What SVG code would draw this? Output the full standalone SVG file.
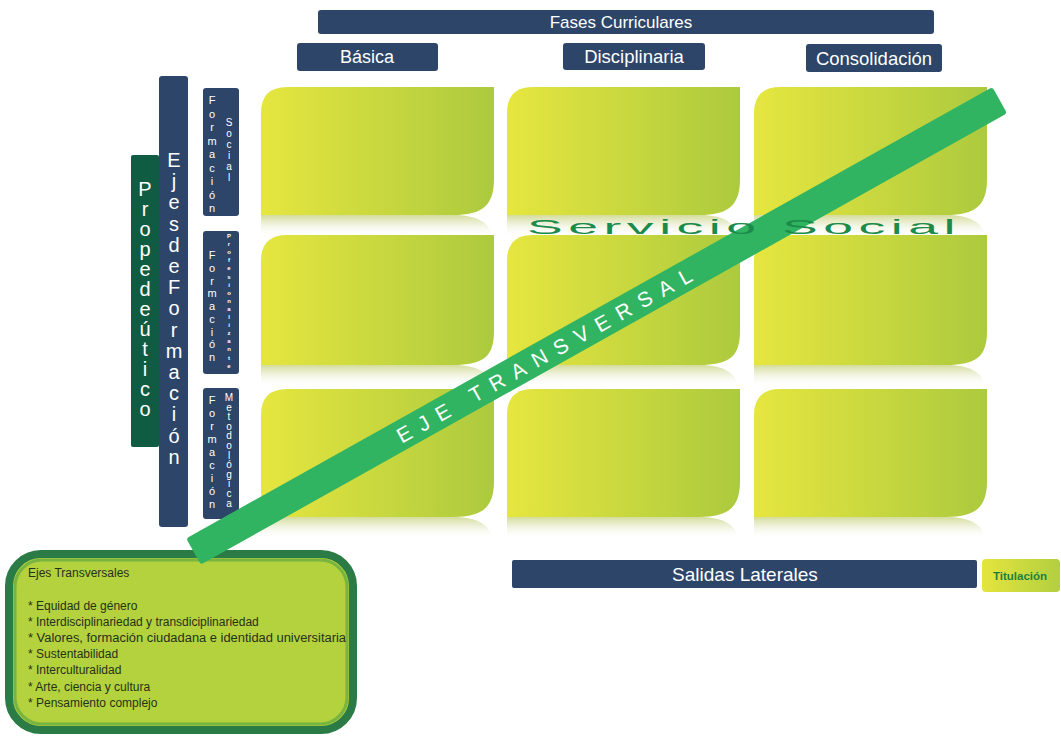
<svg xmlns="http://www.w3.org/2000/svg" width="1061" height="737" viewBox="0 0 1061 737">
<defs>
<linearGradient id="gTile" x1="0" y1="0" x2="1" y2="0">
<stop offset="0" stop-color="#e6e63f"/>
<stop offset="1" stop-color="#acca3e"/>
</linearGradient>
<linearGradient id="gRefl" x1="0" y1="0" x2="0" y2="1">
<stop offset="0" stop-color="#cfd98f" stop-opacity="0.9"/>
<stop offset="0.5" stop-color="#eef1da" stop-opacity="0.7"/>
<stop offset="1" stop-color="#ffffff" stop-opacity="0"/>
</linearGradient>
<linearGradient id="gTit" x1="0" y1="0" x2="1" y2="0">
<stop offset="0" stop-color="#e4e53d"/>
<stop offset="1" stop-color="#b3cf41"/>
</linearGradient>
<style>
.navy{fill:#2c4568}
.hdr{font-family:"Liberation Sans",Arial,sans-serif;fill:#ffffff;text-anchor:middle}
.vt{font-family:"Liberation Sans",Arial,sans-serif;fill:#ffffff;text-anchor:middle}
.tile{fill:url(#gTile)}
.refl{fill:url(#gRefl)}
.item{font-family:"Liberation Sans",Arial,sans-serif;font-size:12px;fill:#26301a}
</style>
<path id="tileA" d="M0,26 Q0,0 26,0 H233 V92 C233,118 222,128 192,128 H0 Z"/>
<path id="tileB" d="M0,26 Q0,0 26,0 H233 V96 C233,122 222,130 192,130 H0 Z"/>
<path id="reflA" d="M0,0 H192 C214,0 228,6 232,22 H0 Z"/>
</defs>
<rect width="1061" height="737" fill="#ffffff"/>

<g id="fases-curriculares"><rect x="318" y="10" width="616" height="24" rx="3" class="navy"/><text x="621" y="28" class="hdr" font-size="17">Fases Curriculares</text></g>
<g id="basica"><rect x="297" y="43" width="141" height="28" rx="3" class="navy"/><text x="367" y="63" class="hdr" font-size="18">Básica</text></g>
<g id="disciplinaria"><rect x="563" y="43" width="142" height="27" rx="3" class="navy"/><text x="634" y="63" class="hdr" font-size="18.5">Disciplinaria</text></g>
<g id="consolidacion"><rect x="806" y="44" width="136" height="28" rx="3" class="navy"/><text x="874" y="65" class="hdr" font-size="18.5">Consolidación</text></g>

<g id="tiles">
<g id="tile-r1c1"><use href="#tileA" x="261" y="87" class="tile"/><use href="#reflA" x="261" y="215" class="refl"/></g>
<g id="tile-r1c2"><use href="#tileA" x="507" y="87" class="tile"/><use href="#reflA" x="507" y="215" class="refl"/></g>
<g id="tile-r1c3"><use href="#tileA" x="754" y="87" class="tile"/><use href="#reflA" x="754" y="215" class="refl"/></g>
<g id="tile-r2c1"><use href="#tileB" x="261" y="235" class="tile"/><use href="#reflA" x="261" y="365" class="refl"/></g>
<g id="tile-r2c2"><use href="#tileB" x="507" y="235" class="tile"/><use href="#reflA" x="507" y="365" class="refl"/></g>
<g id="tile-r2c3"><use href="#tileB" x="754" y="235" class="tile"/><use href="#reflA" x="754" y="365" class="refl"/></g>
<g id="tile-r3c1"><use href="#tileA" x="261" y="389" class="tile"/><use href="#reflA" x="261" y="517" class="refl"/></g>
<g id="tile-r3c2"><use href="#tileA" x="507" y="389" class="tile"/><use href="#reflA" x="507" y="517" class="refl"/></g>
<g id="tile-r3c3"><use href="#tileA" x="754" y="389" class="tile"/><use href="#reflA" x="754" y="517" class="refl"/></g>
</g>

<g id="propedeutico"><rect x="131" y="155" width="28" height="292" rx="2" fill="#0f5c42"/>
<text class="vt" font-size="20"><tspan x="145" y="196">P</tspan><tspan x="145" dy="20">r</tspan><tspan x="145" dy="20">o</tspan><tspan x="145" dy="20">p</tspan><tspan x="145" dy="20">e</tspan><tspan x="145" dy="20">d</tspan><tspan x="145" dy="20">e</tspan><tspan x="145" dy="20">ú</tspan><tspan x="145" dy="20">t</tspan><tspan x="145" dy="20">i</tspan><tspan x="145" dy="20">c</tspan><tspan x="145" dy="20">o</tspan></text></g>

<g id="ejes-de-formacion"><rect x="159" y="76" width="29" height="451" rx="3" class="navy"/>
<text class="vt" font-size="20"><tspan x="174" y="167">E</tspan><tspan x="174" dy="21.2">j</tspan><tspan x="174" dy="21.2">e</tspan><tspan x="174" dy="21.2">s</tspan><tspan x="174" dy="21.2">d</tspan><tspan x="174" dy="21.2">e</tspan><tspan x="174" dy="21.2">F</tspan><tspan x="174" dy="21.2">o</tspan><tspan x="174" dy="21.2">r</tspan><tspan x="174" dy="21.2">m</tspan><tspan x="174" dy="21.2">a</tspan><tspan x="174" dy="21.2">c</tspan><tspan x="174" dy="21.2">i</tspan><tspan x="174" dy="21.2">ó</tspan><tspan x="174" dy="21.2">n</tspan></text></g>

<g id="formacion-social"><rect x="203" y="88" width="36" height="128" rx="3" class="navy"/>
<text class="vt" font-size="11"><tspan x="212" y="104">F</tspan><tspan x="212" dy="13.5">o</tspan><tspan x="212" dy="13.5">r</tspan><tspan x="212" dy="13.5">m</tspan><tspan x="212" dy="13.5">a</tspan><tspan x="212" dy="13.5">c</tspan><tspan x="212" dy="13.5">i</tspan><tspan x="212" dy="13.5">ó</tspan><tspan x="212" dy="13.5">n</tspan></text>
<text class="vt" font-size="10"><tspan x="229" y="126">S</tspan><tspan x="229" dy="11">o</tspan><tspan x="229" dy="11">c</tspan><tspan x="229" dy="11">i</tspan><tspan x="229" dy="11">a</tspan><tspan x="229" dy="11">l</tspan></text></g>

<g id="formacion-profesionalizante"><rect x="203" y="231" width="36" height="143" rx="3" class="navy"/>
<text class="vt" font-size="11"><tspan x="212" y="259">F</tspan><tspan x="212" dy="12.75">o</tspan><tspan x="212" dy="12.75">r</tspan><tspan x="212" dy="12.75">m</tspan><tspan x="212" dy="12.75">a</tspan><tspan x="212" dy="12.75">c</tspan><tspan x="212" dy="12.75">i</tspan><tspan x="212" dy="12.75">ó</tspan><tspan x="212" dy="12.75">n</tspan></text>
<text class="vt" font-size="6" font-weight="bold"><tspan x="229" y="238">P</tspan><tspan x="229" dy="8.1">r</tspan><tspan x="229" dy="8.1">o</tspan><tspan x="229" dy="8.1">f</tspan><tspan x="229" dy="8.1">e</tspan><tspan x="229" dy="8.1">s</tspan><tspan x="229" dy="8.1">i</tspan><tspan x="229" dy="8.1">o</tspan><tspan x="229" dy="8.1">n</tspan><tspan x="229" dy="8.1">a</tspan><tspan x="229" dy="8.1">l</tspan><tspan x="229" dy="8.1">i</tspan><tspan x="229" dy="8.1">z</tspan><tspan x="229" dy="8.1">a</tspan><tspan x="229" dy="8.1">n</tspan><tspan x="229" dy="8.1">t</tspan><tspan x="229" dy="8.1">e</tspan></text></g>

<g id="formacion-metodologica"><rect x="203" y="388" width="36" height="131" rx="3" class="navy"/>
<text class="vt" font-size="11"><tspan x="212" y="404">F</tspan><tspan x="212" dy="13">o</tspan><tspan x="212" dy="13">r</tspan><tspan x="212" dy="13">m</tspan><tspan x="212" dy="13">a</tspan><tspan x="212" dy="13">c</tspan><tspan x="212" dy="13">i</tspan><tspan x="212" dy="13">ó</tspan><tspan x="212" dy="13">n</tspan></text>
<text class="vt" font-size="10"><tspan x="229" y="401">M</tspan><tspan x="229" dy="9.6">e</tspan><tspan x="229" dy="9.6">t</tspan><tspan x="229" dy="9.6">o</tspan><tspan x="229" dy="9.6">d</tspan><tspan x="229" dy="9.6">o</tspan><tspan x="229" dy="9.6">l</tspan><tspan x="229" dy="9.6">ó</tspan><tspan x="229" dy="9.6">g</tspan><tspan x="229" dy="9.6">i</tspan><tspan x="229" dy="9.6">c</tspan><tspan x="229" dy="9.6">a</tspan></text></g>

<g id="ejes-transversales">
<rect x="9" y="554" width="344" height="176" rx="32" fill="#b4d23d" stroke="#2a7b45" stroke-width="8"/>
<rect x="15" y="560" width="332" height="164" rx="27" fill="none" stroke="#5ea742" stroke-width="3" opacity="0.7"/>
<text x="28" y="577" class="item">Ejes Transversales</text>
<text x="28" y="610" class="item">* Equidad de género</text>
<text x="28" y="626" class="item">* Interdisciplinariedad y transdiciplinariedad</text>
<text x="28" y="642" class="item" textLength="318" lengthAdjust="spacingAndGlyphs">* Valores, formación ciudadana e identidad universitaria</text>
<text x="28" y="658" class="item">* Sustentabilidad</text>
<text x="28" y="674" class="item">* Interculturalidad</text>
<text x="28" y="691" class="item">* Arte, ciencia y cultura</text>
<text x="28" y="707" class="item">* Pensamiento complejo</text>
</g>

<g id="salidas-laterales"><rect x="512" y="560" width="465" height="28" rx="2" class="navy"/><text x="745" y="581" class="hdr" font-size="19">Salidas Laterales</text></g>
<g id="titulacion"><rect x="982" y="559" width="78" height="33" rx="4" fill="url(#gTit)"/><text x="1020" y="580" font-family="'Liberation Sans',Arial,sans-serif" font-size="11.5" font-weight="bold" fill="#1a8040" text-anchor="middle">Titulación</text></g>

<g id="connectors">
<g id="eje-transversal" transform="translate(193.5,551.5) rotate(-29.24)">
<rect x="0" y="-15" width="924" height="30" rx="3" fill="#31b461"/>
</g>
<text transform="translate(544,355) rotate(-29.24)" x="0" y="8" font-family="'Liberation Sans',Arial,sans-serif" font-size="21" fill="#ffffff" text-anchor="middle" textLength="335" lengthAdjust="spacing">EJE TRANSVERSAL</text>
</g>

<g id="servicio-social">
<text transform="translate(527,234) scale(2.55,1)" x="0" y="0" font-family="'Liberation Sans',Arial,sans-serif" font-size="21" fill="#1b8b4c" textLength="168" lengthAdjust="spacing">Servicio Social</text>
</g>
</svg>
